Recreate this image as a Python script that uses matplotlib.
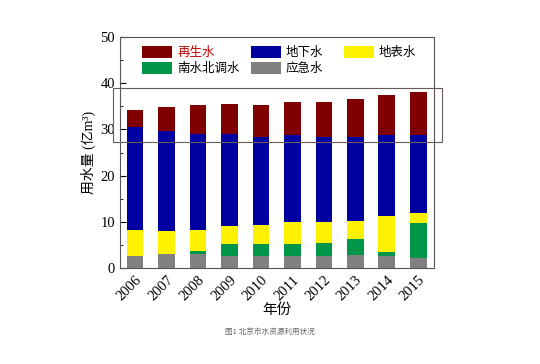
import matplotlib
matplotlib.use("Agg")
import matplotlib.pyplot as plt
from matplotlib.patches import Rectangle, Patch
from matplotlib.legend import Legend
from matplotlib.ticker import MultipleLocator
import numpy as np

plt.rcParams['font.family'] = ['Liberation Serif', 'Noto Sans CJK SC', 'DejaVu Sans']

years = ['2006', '2007', '2008', '2009', '2010', '2011', '2012', '2013', '2014', '2015']
emergency = [2.6, 3.0, 3.0, 2.7, 2.7, 2.5, 2.7, 2.8, 2.6, 2.1]
south_north = [0.0, 0.0, 0.7, 2.6, 2.6, 2.7, 2.8, 3.5, 0.9, 7.6]
surface = [5.7, 5.0, 4.6, 3.8, 4.0, 4.8, 4.35, 3.9, 7.7, 2.2]
ground = [22.3, 21.7, 20.7, 19.8, 19.1, 18.8, 18.45, 18.1, 17.5, 16.8]
reclaimed = [3.7, 5.1, 6.2, 6.7, 6.9, 7.2, 7.55, 8.2, 8.8, 9.5]

colors = {'再生水': '#800000', '地下水': '#0000A0', '地表水': '#FFF200',
          '南水北调水': '#00964A', '应急水': '#808080'}
legend_columns = [['再生水', '南水北调水'], ['地下水', '应急水'], ['地表水']]
legend_col_x = [142, 251, 344]

fig = plt.figure(figsize=(5.4, 3.64), dpi=100)
ax = fig.add_axes([120/540, 1-268/364, (434-120)/540, (268-37)/364])

x = np.arange(len(years))
w = 0.53
bottom = np.zeros(len(years))
series = [('应急水', emergency), ('南水北调水', south_north), ('地表水', surface),
          ('地下水', ground), ('再生水', reclaimed)]
for name, vals in series:
    ax.bar(x, vals, w, bottom=bottom, color=colors[name], edgecolor='none')
    bottom += np.array(vals)

ax.set_xlim(-0.48, 9.5)
ax.set_ylim(0, 50)
ax.yaxis.set_major_locator(MultipleLocator(10))
ax.yaxis.set_minor_locator(MultipleLocator(5))
ax.tick_params(axis='y', which='both', direction='in', left=True, right=False, labelsize=10.5)
ax.tick_params(axis='y', which='major', length=4)
ax.tick_params(axis='y', which='minor', length=2.5)
ax.set_xticks(x)
ax.set_xticklabels(years, rotation=45, ha='right', rotation_mode='anchor', fontsize=10.5)
ax.tick_params(axis='x', length=0, pad=4)
for s in ax.spines.values():
    s.set_color('#555555')
    s.set_linewidth(0.8)

ax.set_ylabel('用水量 (亿m³)', fontsize=10, labelpad=3)
ax.set_xlabel('年份', fontsize=10.5, labelpad=0)

for ci, (col, xpix) in enumerate(zip(legend_columns, legend_col_x)):
    handles = [Patch(facecolor=colors[l], edgecolor='none') for l in col]
    leg = Legend(ax, handles, col, loc='upper left',
                 bbox_to_anchor=(xpix/540, 1-46/364), bbox_transform=fig.transFigure,
                 frameon=False, handlelength=2.4, handleheight=1.15,
                 handletextpad=0.4, labelspacing=0.2, borderpad=0, borderaxespad=0,
                 prop={'family': ['Noto Sans CJK SC'], 'size': 9})
    if ci == 0:
        leg.get_texts()[0].set_color('#C00000')
    ax.add_artist(leg)

fig.patches.append(Rectangle((113/540, 1-142/364), (442-113)/540, (142-88)/364,
                             transform=fig.transFigure, fill=False,
                             edgecolor='#6b5a5a', linewidth=0.8))

fig.text(270/540, 1-333/364, '图1 北京市水资源利用状况', ha='center', va='center',
         fontsize=5.5, color='#666666', family=['Noto Sans CJK SC'])

fig.savefig('out.png', dpi=100)
